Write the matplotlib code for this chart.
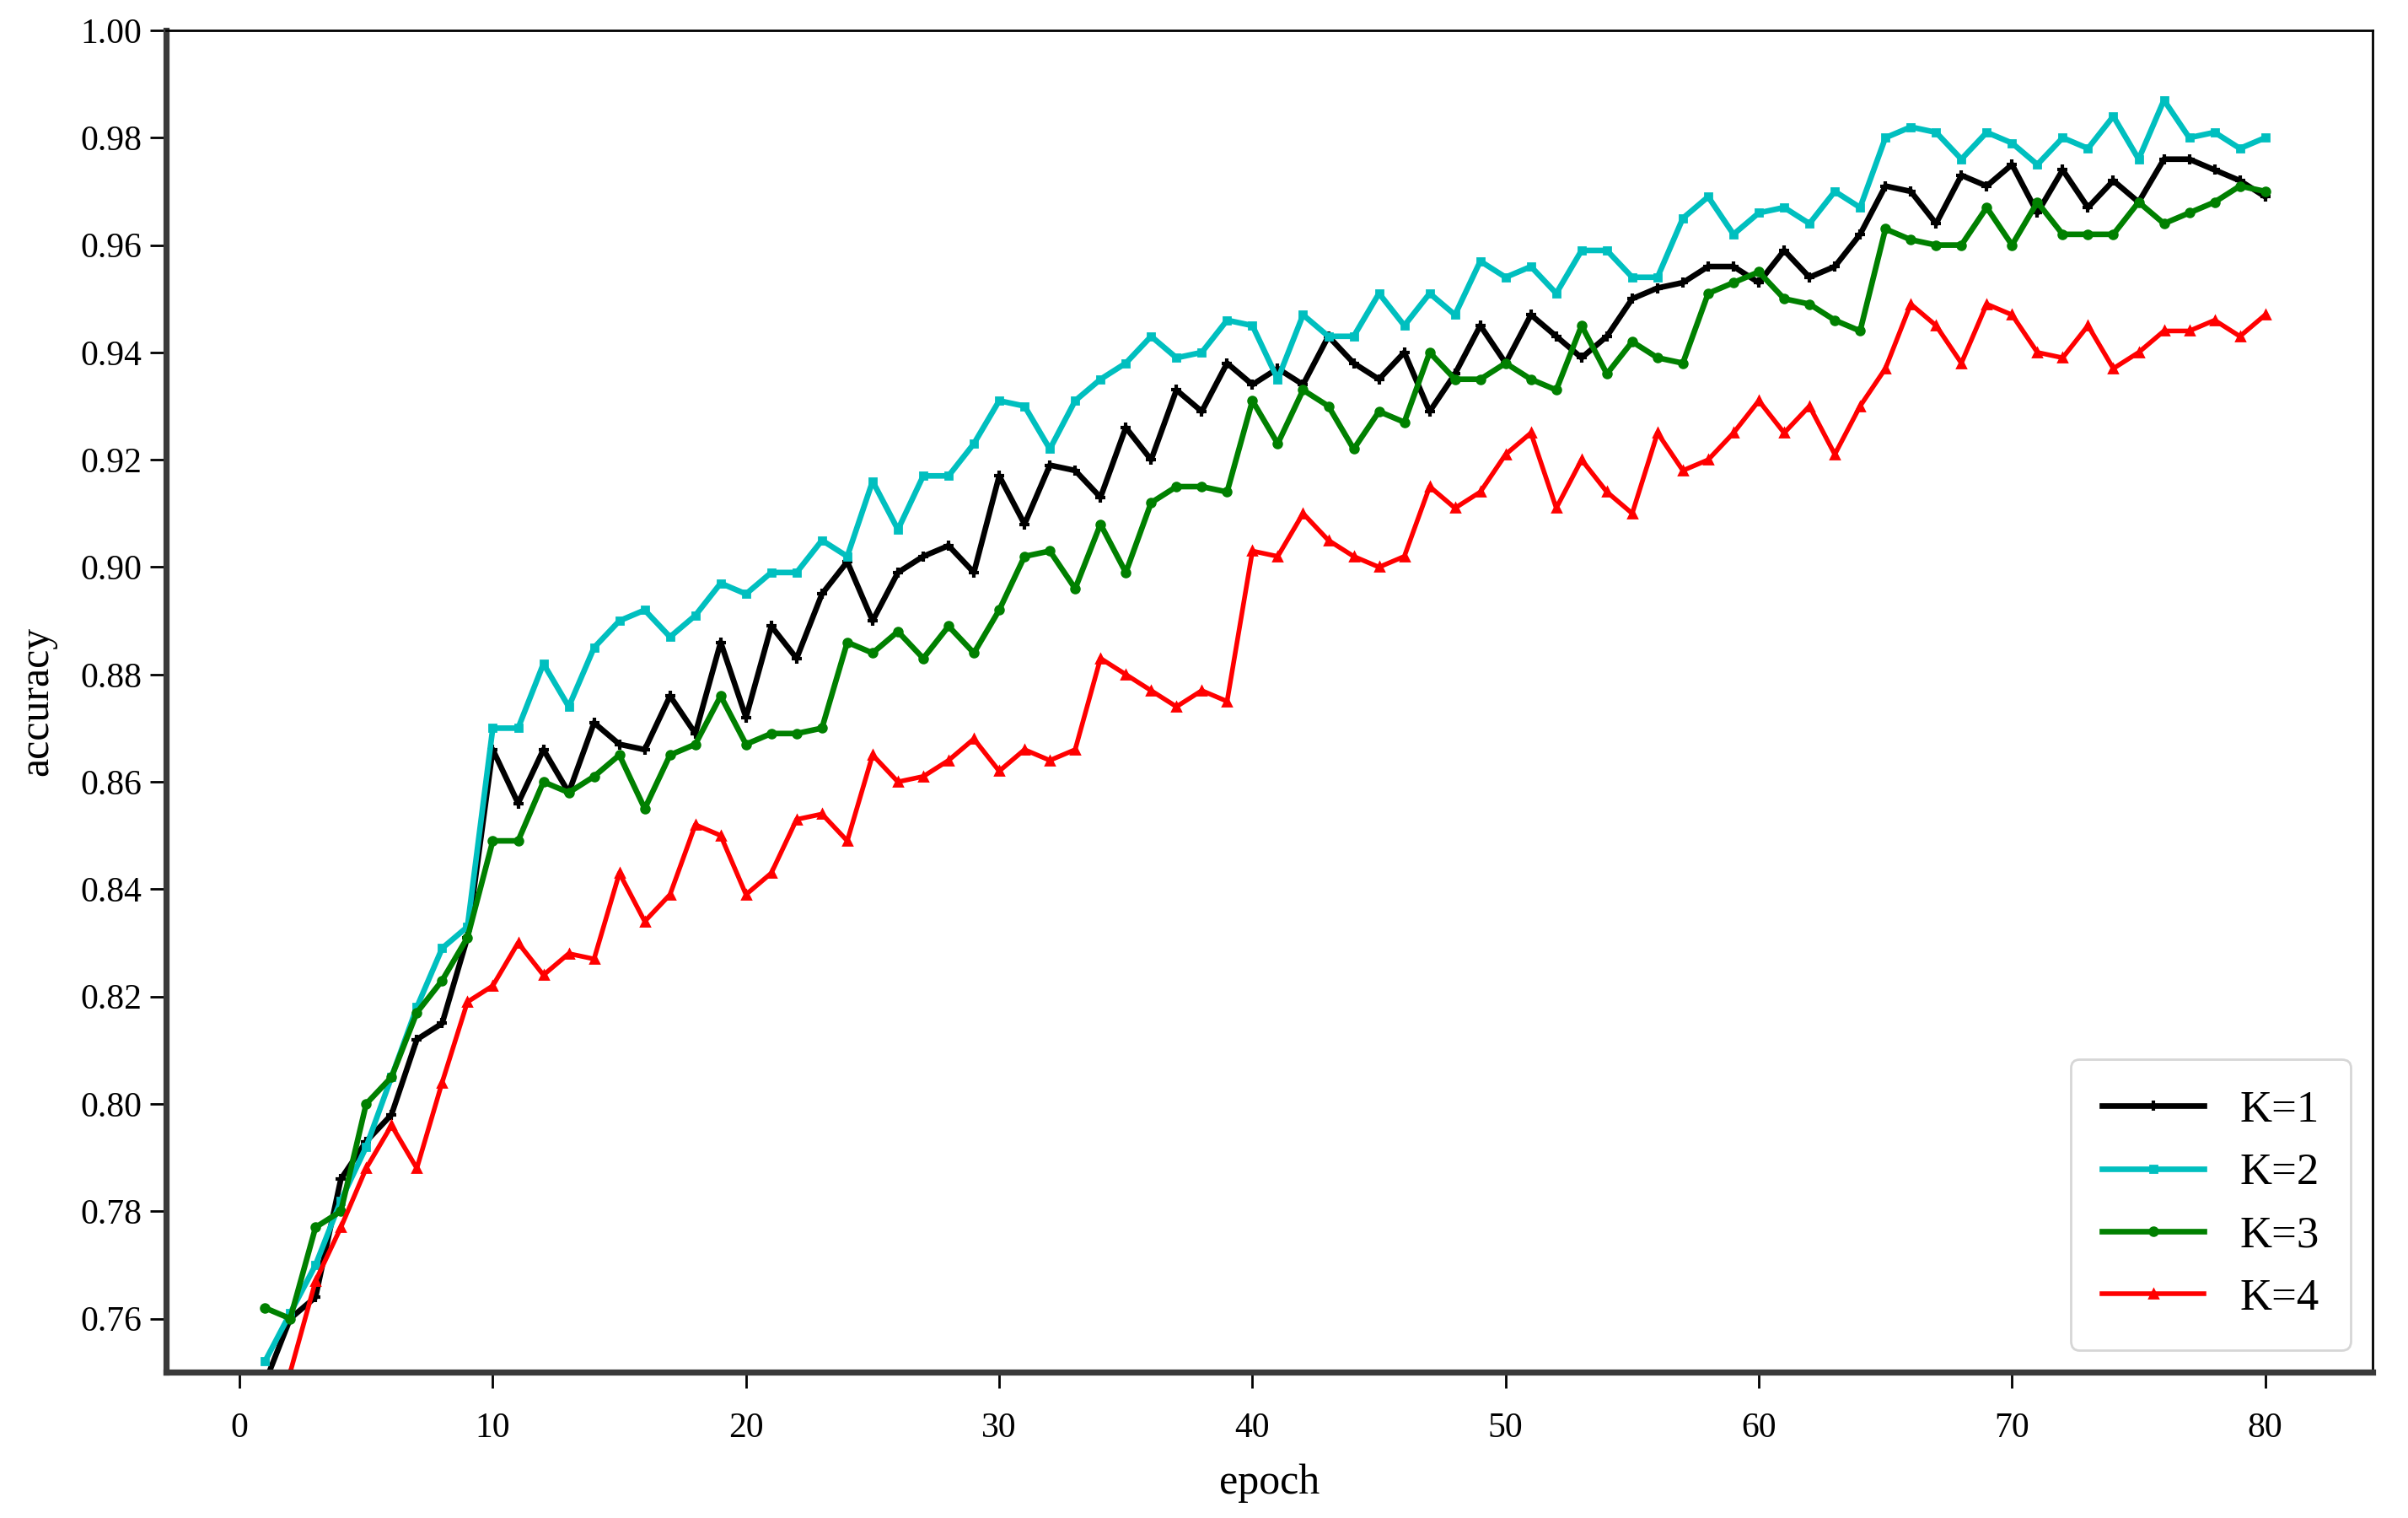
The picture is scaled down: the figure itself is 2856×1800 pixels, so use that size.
import numpy as np
import matplotlib
matplotlib.use('Agg')
import matplotlib.pyplot as plt

epochs = list(range(1, 81))

acc_k1 = [0.748, 0.760, 0.764, 0.786, 0.793, 0.798, 0.812, 0.815, 0.831, 0.866,
          0.856, 0.866, 0.858, 0.871, 0.867, 0.866, 0.876, 0.869, 0.886, 0.872,
          0.889, 0.883, 0.895, 0.901, 0.890, 0.899, 0.902, 0.904, 0.899, 0.917,
          0.908, 0.919, 0.918, 0.913, 0.926, 0.920, 0.933, 0.929, 0.938, 0.934,
          0.937, 0.934, 0.943, 0.938, 0.935, 0.940, 0.929, 0.936, 0.945, 0.938,
          0.947, 0.943, 0.939, 0.943, 0.950, 0.952, 0.953, 0.956, 0.956, 0.953,
          0.959, 0.954, 0.956, 0.962, 0.971, 0.970, 0.964, 0.973, 0.971, 0.975,
          0.966, 0.974, 0.967, 0.972, 0.968, 0.976, 0.976, 0.974, 0.972, 0.969]

acc_k2 = [0.752, 0.761, 0.770, 0.782, 0.792, 0.805, 0.818, 0.829, 0.833, 0.870,
          0.870, 0.882, 0.874, 0.885, 0.890, 0.892, 0.887, 0.891, 0.897, 0.895,
          0.899, 0.899, 0.905, 0.902, 0.916, 0.907, 0.917, 0.917, 0.923, 0.931,
          0.930, 0.922, 0.931, 0.935, 0.938, 0.943, 0.939, 0.940, 0.946, 0.945,
          0.935, 0.947, 0.943, 0.943, 0.951, 0.945, 0.951, 0.947, 0.957, 0.954,
          0.956, 0.951, 0.959, 0.959, 0.954, 0.954, 0.965, 0.969, 0.962, 0.966,
          0.967, 0.964, 0.970, 0.967, 0.980, 0.982, 0.981, 0.976, 0.981, 0.979,
          0.975, 0.980, 0.978, 0.984, 0.976, 0.987, 0.980, 0.981, 0.978, 0.980]

acc_k3 = [0.762, 0.760, 0.777, 0.780, 0.800, 0.805, 0.817, 0.823, 0.831, 0.849,
          0.849, 0.860, 0.858, 0.861, 0.865, 0.855, 0.865, 0.867, 0.876, 0.867,
          0.869, 0.869, 0.870, 0.886, 0.884, 0.888, 0.883, 0.889, 0.884, 0.892,
          0.902, 0.903, 0.896, 0.908, 0.899, 0.912, 0.915, 0.915, 0.914, 0.931,
          0.923, 0.933, 0.930, 0.922, 0.929, 0.927, 0.940, 0.935, 0.935, 0.938,
          0.935, 0.933, 0.945, 0.936, 0.942, 0.939, 0.938, 0.951, 0.953, 0.955,
          0.950, 0.949, 0.946, 0.944, 0.963, 0.961, 0.960, 0.960, 0.967, 0.960,
          0.968, 0.962, 0.962, 0.962, 0.968, 0.964, 0.966, 0.968, 0.971, 0.970]

acc_k4 = [0.735, 0.750, 0.767, 0.777, 0.788, 0.796, 0.788, 0.804, 0.819, 0.822,
          0.830, 0.824, 0.828, 0.827, 0.843, 0.834, 0.839, 0.852, 0.850, 0.839,
          0.843, 0.853, 0.854, 0.849, 0.865, 0.860, 0.861, 0.864, 0.868, 0.862,
          0.866, 0.864, 0.866, 0.883, 0.880, 0.877, 0.874, 0.877, 0.875, 0.903,
          0.902, 0.910, 0.905, 0.902, 0.900, 0.902, 0.915, 0.911, 0.914, 0.921,
          0.925, 0.911, 0.920, 0.914, 0.910, 0.925, 0.918, 0.920, 0.925, 0.931,
          0.925, 0.930, 0.921, 0.930, 0.937, 0.949, 0.945, 0.938, 0.949, 0.947,
          0.940, 0.939, 0.945, 0.937, 0.940, 0.944, 0.944, 0.946, 0.943, 0.947]

labels = ['K=1', 'K=2', 'K=3', 'K=4']


def main():
    fig = plt.figure(figsize=(14.28, 9), dpi=200)
    ax = fig.add_axes([0.069, 0.096, 0.9163, 0.884])

    ax.plot(epochs, acc_k1, color='k', lw=2.4, marker='+', ms=4, mew=1.5, label=labels[0])
    ax.plot(epochs, acc_k2, color='c', lw=2.4, marker='s', ms=3, label=labels[1])
    ax.plot(epochs, acc_k3, color='g', lw=2.4, marker='o', ms=3.5, label=labels[2])
    ax.plot(epochs, acc_k4, color='r', lw=2.0, marker='^', ms=3.5, label=labels[3])

    ax.set_xlim(-2.9, 84.24)
    ax.set_ylim(0.75, 1.0)
    ax.set_xticks(np.arange(0, 81, 10))
    ax.set_yticks(np.arange(0.76, 1.001, 0.02))
    ax.yaxis.set_major_formatter(plt.FormatStrFormatter('%.2f'))
    ax.tick_params(length=7, width=1, labelsize=15)
    ax.tick_params(axis='x', pad=10)

    ax.set_xlabel('epoch', fontsize=18, labelpad=8)
    ax.set_ylabel('accuracy', fontsize=18, labelpad=10)

    for side in ['left', 'bottom']:
        ax.spines[side].set_linewidth(2.6)
        ax.spines[side].set_color('#3a3a3a')
    for side in ['top', 'right']:
        ax.spines[side].set_linewidth(1.0)

    ax.legend(loc='lower right', fontsize=19, handlelength=2.3, labelspacing=0.5,
              borderpad=0.7)

    fig.savefig('out.png', dpi=200)


if __name__ == "__main__":
    plt.rcdefaults()
    plt.rcParams['font.family'] = ['Liberation Serif', 'DejaVu Serif']
    main()
